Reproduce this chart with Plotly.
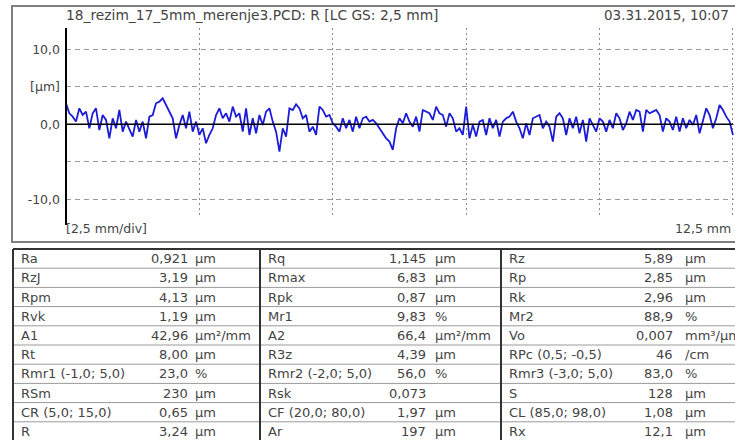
import numpy as np
import plotly.graph_objects as go

# ---------------- data ----------------
title_text = "18_rezim_17_5mm_merenje3.PCD: R [LC GS: 2,5 mm]"
date_text = "03.31.2015, 10:07"
x_div_label = "[2,5 mm/div]"
x_end_label = "12,5 mm"
y_tick_vals = [-10, -5, 0, 5, 10]
y_tick_text = ["-10,0", "", "0,0", "[µm]", "10,0"]
x_tick_vals = [2.5, 5.0, 7.5, 10.0, 12.5]
profile_length_mm = 12.5

profile_um = [
    2.80, 1.47, 1.02, 0.36, 2.13, 1.24, 1.69, -0.53, 1.47, 2.13,
    -0.76, 1.24, 0.58, -1.87, 0.80, -0.53, 1.91, -0.98, 0.36, -0.53,
    -1.64, 0.58, -0.98, 0.36, -1.87, 1.02, 1.24, 2.80, 3.02, 3.47,
    2.58, 1.47, 0.80, -1.87, -0.09, 1.24, -0.53, 1.69, -0.98, 0.36,
    -1.42, -0.53, -2.53, -1.42, -0.53, 1.24, 2.13, 0.80, 1.47, 0.36,
    2.36, 1.02, 1.47, -0.98, 2.13, -1.42, 0.80, -1.20, 1.24, -0.09,
    1.69, 2.13, 0.36, -0.98, -3.64, -0.53, -1.64, 2.13, 1.91, 2.67,
    2.13, 0.80, 1.24, -0.98, -0.31, -1.42, 2.36, 1.91, 1.02, 1.24,
    0.13, -0.31, -0.98, 0.80, -0.53, 0.58, -0.98, 1.02, -0.53, 0.80,
    1.02, 0.36, 0.58, 0.13, -0.53, -1.20, -1.87, -2.31, -3.42,
    -0.53, 0.80, 0.13, 1.47, 0.36, -0.31, 1.02, -0.98, 1.91, 1.69,
    1.47, 0.58, 2.36, 1.47, 1.24, -0.31, 1.47, 0.80, -0.98, -0.53,
    -1.42, 2.36, -1.87, -0.09, -1.64, 0.36, 0.58, -1.42, 0.80, -0.53,
    0.58, -1.64, 0.36, 0.80, 1.02, 1.69, 0.36, -0.53, -1.87, 0.13,
    -1.42, 0.80, 1.02, 1.24, -0.53, 0.36, -0.31, -2.31, 1.02, 1.47,
    0.80, -1.42, 0.80, -0.53, 1.02, -1.20, 0.58, -2.31, 0.80, -0.09,
    -0.98, 0.80, 0.36, -0.98, 0.58, -0.53, 1.47, 0.80, -0.76, 0.13,
    1.69, 0.58, 1.91, 1.69, -0.98, 1.91, 1.47, 1.69, 1.91, 1.24,
    -0.98, 0.80, 0.36, -0.76, 1.02, -0.98, 0.80, -0.53, 0.58, -0.09,
    1.24, -1.20, 0.36, 2.13, 1.24, -0.53, 0.80, 2.58, 1.91, 1.02,
    0.36, -1.42,
]

names_1 = ["Ra", "RzJ", "Rpm", "Rvk", "A1", "Rt", "Rmr1 (-1,0; 5,0)", "RSm", "CR (5,0; 15,0)", "R"]
values_1 = ["0,921", "3,19", "4,13", "1,19", "42,96", "8,00", "23,0", "230", "0,65", "3,24"]
units_1 = ["µm", "µm", "µm", "µm", "µm²/mm", "µm", "%", "µm", "µm", "µm"]

names_2 = ["Rq", "Rmax", "Rpk", "Mr1", "A2", "R3z", "Rmr2 (-2,0; 5,0)", "Rsk", "CF (20,0; 80,0)", "Ar"]
values_2 = ["1,145", "6,83", "0,87", "9,83", "66,4", "4,39", "56,0", "0,073", "1,97", "197"]
units_2 = ["µm", "µm", "µm", "%", "µm²/mm", "µm", "%", "", "µm", "µm"]

names_3 = ["Rz", "Rp", "Rk", "Mr2", "Vo", "RPc (0,5; -0,5)", "Rmr3 (-3,0; 5,0)", "S", "CL (85,0; 98,0)", "Rx"]
values_3 = ["5,89", "2,85", "2,96", "88,9", "0,007", "46", "83,0", "128", "1,08", "12,1"]
units_3 = ["µm", "µm", "µm", "%", "mm³/µm²", "/cm", "%", "µm", "µm", "µm"]

# ---------------- layout helpers ----------------
W, H = 735, 440
PL, PR, PT, PB = 66, 734, 28, 217      # plot area in pixels


def px(x):
    return (x - PL) / (PR - PL)


def py(y):
    return (PB - y) / (PB - PT)


FONT = "DejaVu Sans"
TXT = "#444444"

x_mm = np.linspace(0, profile_length_mm, len(profile_um))

fig = go.Figure()
fig.add_trace(go.Scatter(
    x=x_mm, y=profile_um, mode="lines",
    line=dict(color="rgb(28,28,215)", width=1.8),
    hoverinfo="skip", showlegend=False,
))

fig.update_layout(
    width=W, height=H,
    margin=dict(l=PL, r=W - PR, t=PT, b=H - PB, pad=0),
    paper_bgcolor="white", plot_bgcolor="white",
    showlegend=False,
    font=dict(family=FONT, size=12, color=TXT),
    xaxis=dict(
        range=[0, 12.52], tickvals=x_tick_vals, showticklabels=False,
        showgrid=True, gridcolor="#8a8a8a", griddash="2px,3px", gridwidth=1,
        zeroline=False, showline=False, ticks="",
    ),
    yaxis=dict(
        range=[-12.36, 12.84], tickvals=y_tick_vals, ticktext=y_tick_text,
        showgrid=True, gridcolor="#9a9a9a", griddash="5px,4px", gridwidth=1,
        zeroline=False, showline=False, ticks="", ticklabelstandoff=5,
        tickfont=dict(family=FONT, size=12.5, color=TXT),
    ),
)

shapes = []
# zero line above the profile
shapes.append(dict(type="line", xref="x", yref="y", x0=0, x1=12.5, y0=0, y1=0,
                   line=dict(color="black", width=1.5), layer="above"))
# y axis line
shapes.append(dict(type="line", xref="paper", yref="paper", x0=px(66), x1=px(66),
                   y0=py(225), y1=py(28), line=dict(color="black", width=2), layer="above"))
# chart frame
shapes.append(dict(type="rect", xref="paper", yref="paper", x0=px(12), x1=px(745),
                   y0=py(242), y1=py(6), line=dict(color="#7f7f7f", width=2), layer="below"))

# table
tab_top, row_h = 249, 19.2
group_left = [13, 260, 501]
tab_right = 745
for k in range(1, 11):
    yy = tab_top + row_h * k
    shapes.append(dict(type="line", xref="paper", yref="paper", x0=px(13), x1=px(tab_right),
                       y0=py(yy), y1=py(yy), line=dict(color="#9a9a9a", width=1)))
shapes.append(dict(type="line", xref="paper", yref="paper", x0=px(13), x1=px(tab_right),
                   y0=py(tab_top), y1=py(tab_top), line=dict(color="#333333", width=2)))
for gx in group_left:
    shapes.append(dict(type="line", xref="paper", yref="paper", x0=px(gx), x1=px(gx),
                       y0=py(tab_top), y1=py(tab_top + row_h * 10), line=dict(color="#333333", width=2)))

annotations = []


def text(x, y, s, anchor="left", size=13):
    annotations.append(dict(xref="paper", yref="paper", x=px(x), y=py(y), text=s,
                            showarrow=False, xanchor=anchor, yanchor="middle",
                            font=dict(family=FONT, size=size, color=TXT)))


text(64, 15, title_text, "left", 13.8)
text(731, 15, date_text, "right", 13.5)
text(64, 228, x_div_label, "left", 12.5)
text(733, 228, x_end_label, "right", 12.5)

groups = [(names_1, values_1, units_1), (names_2, values_2, units_2), (names_3, values_3, units_3)]
val_off = [177, 168, 174]
unit_off = [180, 173, 182]
for g, (nm, vl, un) in enumerate(groups):
    gx = group_left[g]
    for i in range(len(nm)):
        yc = tab_top + row_h * (i + 0.5)
        text(gx + 6, yc, nm[i], "left")
        text(gx + val_off[g], yc, vl[i], "right")
        if un[i]:
            text(gx + unit_off[g], yc, un[i], "left")

fig.update_layout(shapes=shapes, annotations=annotations)
fig.write_html("out.html", config={"displayModeBar": False},
               post_script="document.body.style.margin='0px';")
